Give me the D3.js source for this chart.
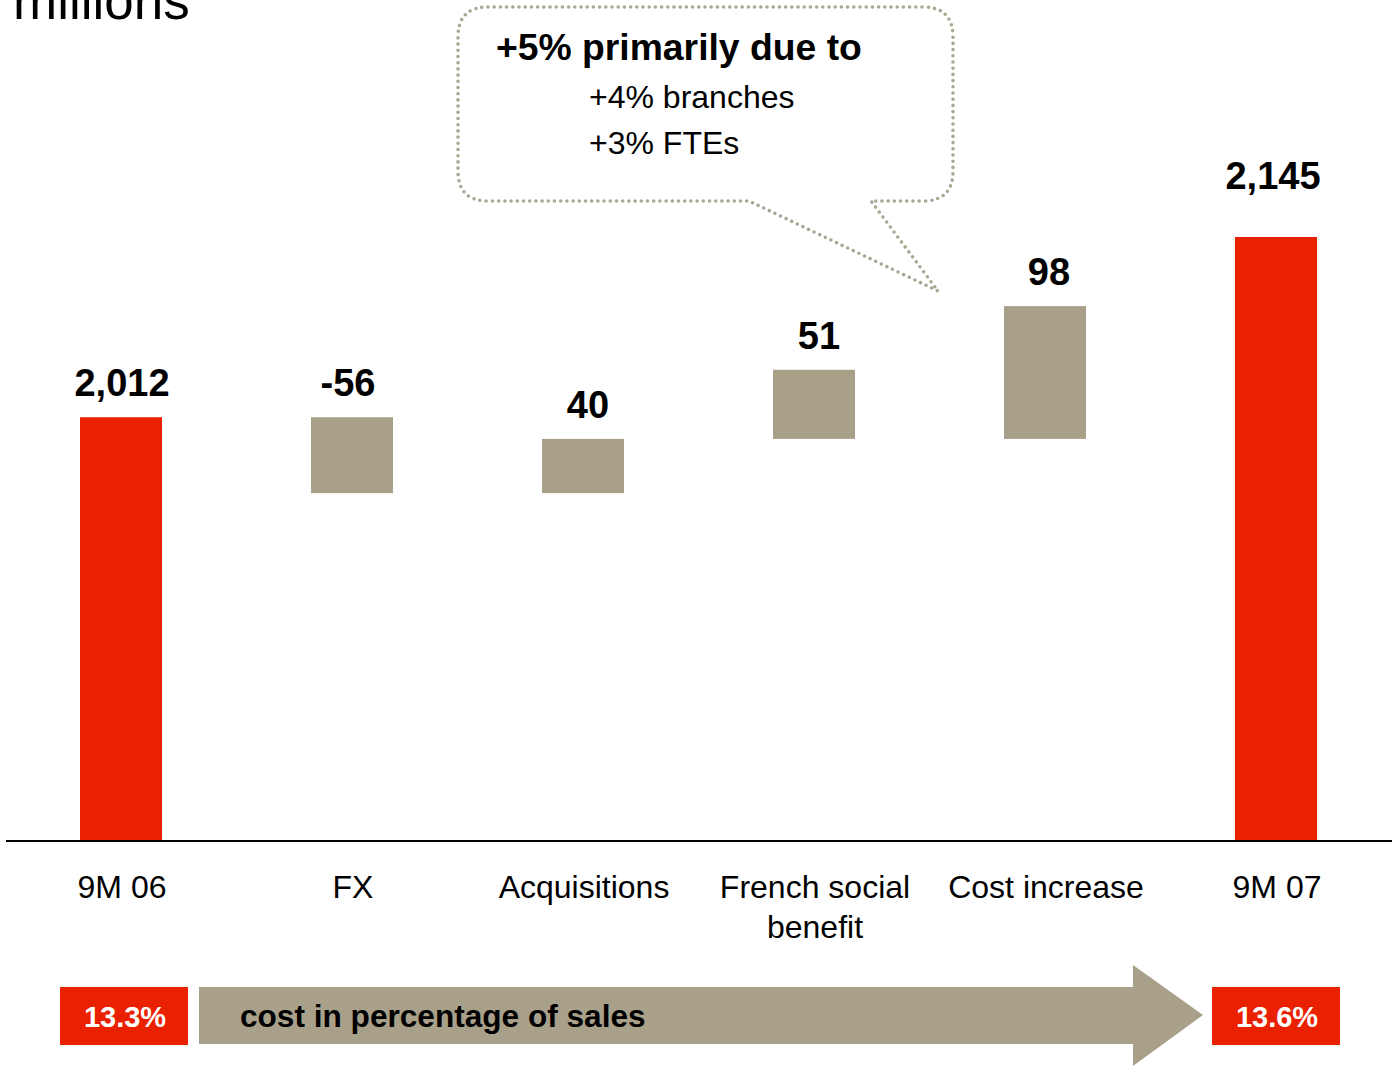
<!DOCTYPE html>
<html>
<head>
<meta charset="utf-8">
<script src="https://cdn.jsdelivr.net/npm/d3@7/dist/d3.min.js"></script>
<style>
  html, body { margin: 0; padding: 0; background: #fff; }
  svg { display: block; font-family: "Liberation Sans", Arial, sans-serif; }
</style>
</head>
<body>
<svg id="chart" width="1392" height="1067"></svg>
<script>
// ---- data ----
const categories = ["9M 06", "FX", "Acquisitions", "French social\nbenefit", "Cost increase", "9M 07"];
const values = [2012, -56, 40, 51, 98, 2145];
const valueLabels = ["2,012", "-56", "40", "51", "98", "2,145"];
const kinds = ["total", "delta", "delta", "delta", "delta", "total"];
const starts = [null, 2012, 1956, 1996, 1996, null]; // start level of each delta bar as drawn
const axisMin = 1700;
const ratioLabels = ["13.3%", "13.6%"];
const ratioCaption = "cost in percentage of sales";
const unitLabel = "millions";
const calloutTitle = "+5% primarily due to";
const calloutLines = ["+4% branches", "+3% FTEs"];

// ---- colours ----
const RED = "#EA2100";
const TAUPE = "#A9A08A";
const DOTS = "#A9A793";

const svg = d3.select("#chart");

const x = d3.scaleBand().domain(categories).range([5.5, 1391.5]).padding(0);
const barW = x.bandwidth() * 0.355;
const y = d3.scaleLinear().domain([axisMin, 2145]).range([840, 237]);

const bars = categories.map((c, i) => {
  let lo, hi;
  if (kinds[i] === "total") { lo = axisMin; hi = values[i]; }
  else { const s = starts[i], e = s + values[i]; lo = Math.min(s, e); hi = Math.max(s, e); }
  return { c, i, lo, hi, kind: kinds[i], label: valueLabels[i] };
});

// unit label (cut off at top, as in the original slide)
svg.append("text").attr("x", 13).attr("y", 19)
  .attr("font-size", 53).attr("fill", "#000").text(unitLabel);

// bars
svg.append("g").selectAll("rect").data(bars).join("rect")
  .attr("x", d => x(d.c) + (x.bandwidth() - barW) / 2)
  .attr("width", barW)
  .attr("y", d => y(d.hi))
  .attr("height", d => y(d.lo) - y(d.hi))
  .attr("fill", d => d.kind === "total" ? RED : TAUPE);

// value labels
const labelDx = [1, -4, 5, 5, 4, -3];
svg.append("g").selectAll("text").data(bars).join("text")
  .attr("x", d => x(d.c) + x.bandwidth() / 2 + labelDx[d.i])
  .attr("y", d => y(d.hi) - (d.i === bars.length - 1 ? 48 : 21))
  .attr("text-anchor", "middle")
  .attr("font-size", 38).attr("font-weight", "bold").attr("fill", "#000")
  .text(d => d.label);

// baseline axis
const xAxis = d3.axisBottom(x).tickSize(0).tickPadding(0);
const axG = svg.append("g").attr("transform", "translate(0,840.5)").call(xAxis);
axG.select(".domain").attr("stroke", "#000").attr("stroke-width", 2);
axG.selectAll(".tick text").remove();
axG.selectAll(".tick").each(function(d) {
  const t = d3.select(this).append("text")
    .attr("text-anchor", "middle").attr("fill", "#000")
    .attr("font-size", 32).attr("font-family", "'Liberation Sans', Arial, sans-serif");
  d.split("\n").forEach((line, k) => {
    t.append("tspan").attr("x", 1).attr("y", 57 + k * 40).text(line);
  });
});

// callout bubble
const cp = "M488,7 H923 Q953,7 953,37 V171 Q953,201 923,201 H871 L938,291 L749,201 H488 Q458,201 458,171 V37 Q458,7 488,7 Z";
svg.append("path").attr("d", cp).attr("fill", "none")
  .attr("stroke", DOTS).attr("stroke-width", 3.6)
  .attr("stroke-linecap", "round").attr("stroke-dasharray", "0 6.2");
svg.append("text").attr("x", 496).attr("y", 60)
  .attr("font-size", 37.3).attr("font-weight", "bold").attr("fill", "#000").text(calloutTitle);
calloutLines.forEach((l, k) => {
  svg.append("text").attr("x", 589).attr("y", 108 + k * 46)
    .attr("font-size", 32).attr("fill", "#000").text(l);
});

// bottom ratio strip
svg.append("rect").attr("x", 60).attr("y", 987).attr("width", 128).attr("height", 58).attr("fill", RED);
svg.append("rect").attr("x", 1212).attr("y", 987).attr("width", 128).attr("height", 58).attr("fill", RED);
svg.append("polygon")
  .attr("points", "199,987 1133,987 1133,965 1203,1015 1133,1066 1133,1044 199,1044")
  .attr("fill", TAUPE);
svg.append("text").attr("x", 125).attr("y", 1027).attr("text-anchor", "middle")
  .attr("font-size", 29).attr("font-weight", "bold").attr("fill", "#fff").text(ratioLabels[0]);
svg.append("text").attr("x", 1277).attr("y", 1027).attr("text-anchor", "middle")
  .attr("font-size", 29).attr("font-weight", "bold").attr("fill", "#fff").text(ratioLabels[1]);
svg.append("text").attr("x", 240).attr("y", 1027)
  .attr("font-size", 31.6).attr("font-weight", "bold").attr("fill", "#000").text(ratioCaption);
</script>
</body>
</html>
